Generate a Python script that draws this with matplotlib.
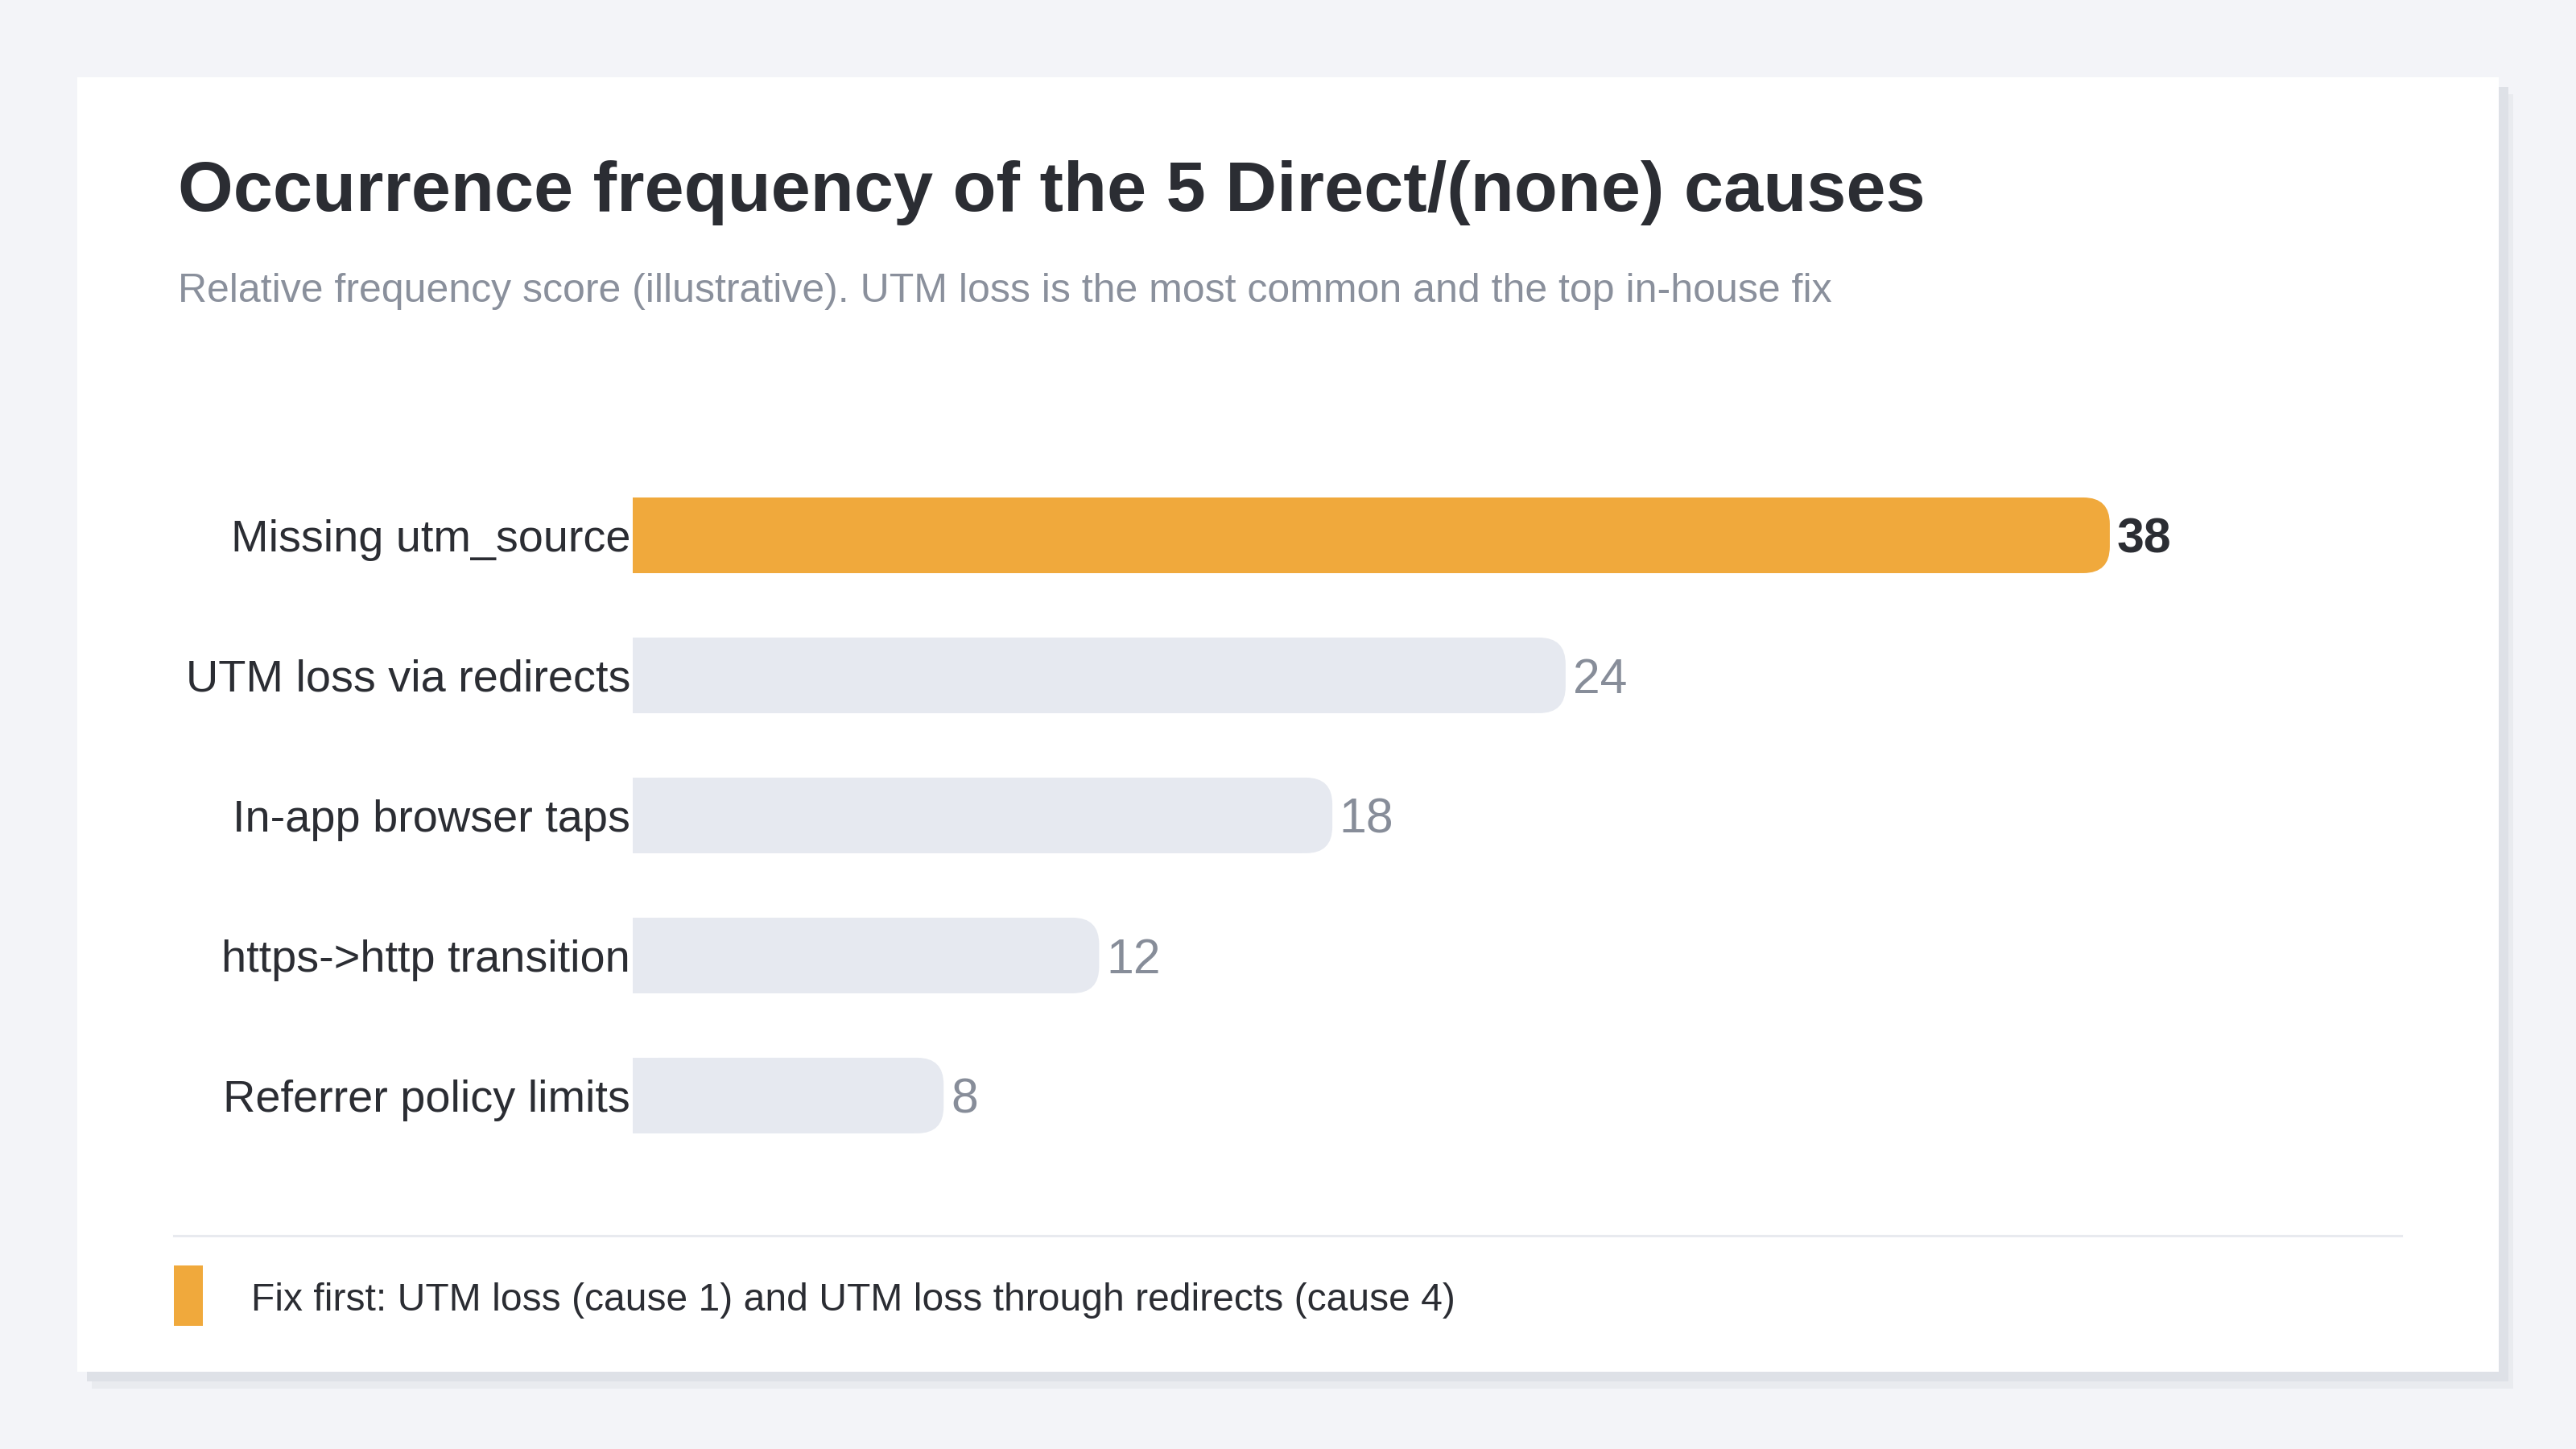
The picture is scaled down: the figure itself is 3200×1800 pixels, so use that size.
import matplotlib.pyplot as plt
from matplotlib.patches import FancyBboxPatch, Rectangle
from matplotlib.lines import Line2D

plt.rcParams['font.family'] = ['Liberation Sans', 'DejaVu Sans']

causes = ['Missing utm_source', 'UTM loss via redirects', 'In-app browser taps',
          'https->http transition', 'Referrer policy limits']
scores = [38, 24, 18, 12, 8]
highlight = [True, False, False, False, False]

title = 'Occurrence frequency of the 5 Direct/(none) causes'
subtitle = 'Relative frequency score (illustrative). UTM loss is the most common and the top in-house fix'
note = 'Fix first: UTM loss (cause 1) and UTM loss through redirects (cause 4)'

orange = '#f0a93c'
grey_bar = '#e6e9f0'
dark = '#2b2d33'
muted = '#878d99'

fig = plt.figure(figsize=(16, 9), dpi=200, facecolor='#f3f4f8')

# card with a soft shadow
fig.patches.append(Rectangle((0.0356, 0.0417), 0.94, 0.8933, transform=fig.transFigure,
                             facecolor='#e9ebef', edgecolor='none', zorder=-3))
fig.patches.append(Rectangle((0.0338, 0.0467), 0.94, 0.8933, transform=fig.transFigure,
                             facecolor='#dee1e7', edgecolor='none', zorder=-2))
fig.patches.append(Rectangle((0.03, 0.0533), 0.94, 0.8933, transform=fig.transFigure,
                             facecolor='white', edgecolor='none', zorder=-1))

fig.text(0.069, 0.8544, title, fontsize=31.8, fontweight='bold', color=dark, va='baseline')
fig.text(0.069, 0.7917, subtitle, fontsize=18.0, color='#8a909c', va='baseline')

ax = fig.add_axes([0.2456, 0.1956, 0.6866, 0.4833], zorder=2)
ax.set_facecolor('none')
ax.set_xlim(0, 45.5)
ax.set_ylim(4.5, -0.5)
ax.axis('off')

h = 0.54
r = 0.68
for i, (name, v, hl) in enumerate(zip(causes, scores, highlight)):
    c = orange if hl else grey_bar
    ax.add_patch(FancyBboxPatch((0, i - h / 2), v, h,
                                boxstyle=f'round,pad=0,rounding_size={r}',
                                mutation_aspect=0.278, facecolor=c, edgecolor='none'))
    ax.barh(i, v - r - 0.1, height=h, color=c, edgecolor='none')
    ax.text(-0.06, i + 0.115, name, ha='right', va='baseline', fontsize=20.1, color=dark)
    ax.text(v + 0.18, i + 0.126, str(v), ha='left', va='baseline', fontsize=21.9,
            color=dark if hl else muted, fontweight='bold' if hl else 'normal')

# footer separator and note
fig.add_artist(Line2D([0.0675, 0.9322], [0.1472, 0.1472], transform=fig.transFigure,
                      color='#e8eaef', linewidth=1.1))
fig.patches.append(Rectangle((0.0675, 0.085), 0.01125, 0.04167, transform=fig.transFigure,
                             facecolor=orange, edgecolor='none'))
fig.text(0.0975, 0.0956, note, fontsize=17.3, color=dark, va='baseline')

fig.savefig('out.png', dpi=200, facecolor=fig.get_facecolor())
